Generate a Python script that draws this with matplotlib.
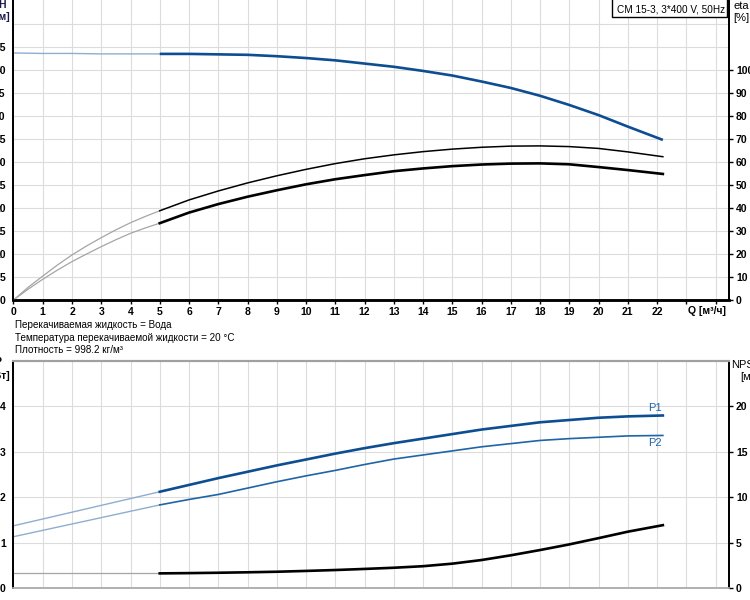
import matplotlib
matplotlib.use("Agg")
import matplotlib.pyplot as plt
from matplotlib.patches import Rectangle

plt.rcParams['font.family'] = ['Liberation Sans', 'DejaVu Sans']

# ---------------- data ----------------
q_main = [5, 6, 7, 8, 9, 10, 11, 12, 13, 14, 15, 16, 17, 18, 19, 20, 21, 22.2]
q_ext = [0, 1, 2, 3, 4, 5]
q_ext_eta = [0, 0.5, 1, 1.5, 2, 2.5, 3, 3.5, 4, 4.5, 5]

h_main = [53.5, 53.5, 53.4, 53.3, 53.0, 52.6, 52.1, 51.4, 50.7, 49.8, 48.8, 47.5,
          46.1, 44.4, 42.4, 40.2, 37.7, 34.8]
h_ext = [53.7, 53.6, 53.6, 53.5, 53.5, 53.5]

eta1_main = [38.8, 43.5, 47.4, 50.9, 54.0, 56.8, 59.3, 61.4, 63.1, 64.5, 65.6, 66.4,
             66.9, 67.0, 66.7, 65.9, 64.4, 62.3]
eta1_ext = [0, 5.5, 10.4, 15.2, 19.6, 23.5, 27.1, 30.5, 33.6, 36.3, 38.8]
eta2_main = [33.4, 38.0, 41.7, 44.9, 47.7, 50.3, 52.5, 54.3, 56.0, 57.2, 58.2, 58.9,
             59.3, 59.4, 59.0, 57.8, 56.5, 54.8]
eta2_ext = [0, 4.7, 9.0, 13.0, 16.7, 20.0, 23.2, 26.2, 29.0, 31.3, 33.4]

p1_main = [2.12, 2.27, 2.42, 2.56, 2.70, 2.83, 2.96, 3.08, 3.19, 3.29, 3.39, 3.49,
           3.57, 3.65, 3.70, 3.75, 3.78, 3.80]
p1_ext = [1.37, 1.52, 1.67, 1.82, 1.97, 2.12]
p2_main = [1.83, 1.95, 2.06, 2.20, 2.34, 2.47, 2.59, 2.72, 2.84, 2.93, 3.02, 3.11,
           3.18, 3.25, 3.29, 3.32, 3.35, 3.36]
p2_ext = [1.13, 1.27, 1.41, 1.55, 1.69, 1.83]

npsh_main = [1.61, 1.64, 1.68, 1.73, 1.79, 1.88, 1.98, 2.10, 2.23, 2.40, 2.68, 3.08,
             3.60, 4.18, 4.80, 5.49, 6.20, 6.92]
npsh_ext = [1.6, 1.6, 1.6, 1.6, 1.6, 1.6]

x_ticks = list(range(0, 25))
x_labels = [str(i) for i in range(0, 23)] + ['', '']
h_ticks = list(range(0, 65, 5))
h_labels = [str(v) for v in range(0, 60, 5)] + ['']
eta_ticks = list(range(0, 101, 10))
p_ticks = [0, 1, 2, 3, 4]
npsh_ticks = [0, 5, 10, 15, 20]

text_lines = ["Перекачиваемая жидкость = Вода",
              "Температура перекачиваемой жидкости = 20 °C",
              "Плотность = 998.2 кг/м³"]
title = "CM 15-3, 3*400 V, 50Hz"

# ---------------- figure ----------------
W, H = 750, 600
fig = plt.figure(figsize=(7.5, 6), dpi=100)

def fx(px):
    return px / W

def fy(py):
    return 1 - py / H

x0, x1 = 13.5, 729
xmax = (x1 - x0) / 29.25

blue_dark = '#0d4d92'
blue_mid = '#1f64a6'
ext_blue = '#8eaed0'
ext_gray = '#a5a5a5'
grid_c = '#dcdcdc'
fs = 7.5

# ---- top axes ----
ax = fig.add_axes([fx(x0), fy(300), fx(x1) - fx(x0), fy(0) - fy(300)])
ax2 = ax.twinx()
ax.set_xlim(0, xmax)
ax.set_ylim(0, 300 / 23 * 5)
ax2.set_ylim(0, 300 / 23 * 10)

ax.grid(True, color=grid_c, lw=0.8)
ax.set_axisbelow(True)

ax.plot(q_ext, h_ext, color=ext_blue, lw=1.0)
ax.plot(q_main, h_main, color=blue_dark, lw=1.9, solid_capstyle='butt')
ax2.plot(q_ext_eta, eta1_ext, color=ext_gray, lw=0.9)
ax2.plot(q_ext_eta, eta2_ext, color=ext_gray, lw=0.9)
ax2.plot(q_main, eta1_main, color='black', lw=1.1)
ax2.plot(q_main, eta2_main, color='black', lw=1.9)

ax.set_xticks(x_ticks)
ax.set_xticklabels(x_labels, fontsize=fs, fontweight='bold')
ax.set_yticks(h_ticks)
ax.set_yticklabels(h_labels, fontsize=fs, fontweight='bold')
ax.tick_params(axis='x', length=3, width=1, pad=2)
ax.tick_params(axis='y', length=0, pad=5.5)
ax2.set_yticks(eta_ticks)
ax2.set_yticklabels([str(v) for v in eta_ticks], fontsize=fs, fontweight='bold')
ax2.tick_params(axis='y', length=3, width=1, pad=2)

for a in (ax, ax2):
    a.spines['top'].set_visible(False)
    a.spines['left'].set_linewidth(1.3)
    a.spines['right'].set_linewidth(1.3)
    a.spines['bottom'].set_linewidth(1.8)

# ---- bottom axes ----
bx = fig.add_axes([fx(x0), fy(588), fx(x1) - fx(x0), fy(361) - fy(588)])
bx2 = bx.twinx()
bx.set_xlim(0, xmax)
bx.set_ylim(0, 5)
bx2.set_ylim(0, 25)
bx.grid(True, color=grid_c, lw=0.8)
bx.set_axisbelow(True)

bx.plot(q_ext, p1_ext, color=ext_blue, lw=1.0)
bx.plot(q_ext, p2_ext, color=ext_blue, lw=1.0)
bx.plot(q_main, p1_main, color=blue_dark, lw=1.9)
bx.plot(q_main, p2_main, color=blue_mid, lw=1.2)
bx2.plot(q_ext, npsh_ext, color=ext_gray, lw=0.9)
bx2.plot(q_main, npsh_main, color='black', lw=1.9)

bx.set_xticks(x_ticks)
bx.set_xticklabels([])
bx.tick_params(axis='x', length=0)
bx.set_yticks(p_ticks)
bx.set_yticklabels([str(v) for v in p_ticks], fontsize=fs, fontweight='bold')
bx.tick_params(axis='y', length=0, pad=5.5)
bx2.set_yticks(npsh_ticks)
bx2.set_yticklabels([str(v) for v in npsh_ticks], fontsize=fs, fontweight='bold')
bx2.tick_params(axis='y', length=3, width=1, pad=2)

for a in (bx, bx2):
    a.spines['top'].set_color('#a0a0a0')
    a.spines['top'].set_linewidth(1.5)
    a.spines['bottom'].set_color('#b0b0b0')
    a.spines['bottom'].set_linewidth(1.2)
    a.spines['left'].set_linewidth(1.3)
    a.spines['right'].set_linewidth(1.3)

bx.text(21.93, 3.96, "P1", color=blue_mid, fontsize=8, ha='center', va='center')
bx.text(21.93, 3.19, "P2", color=blue_mid, fontsize=8, ha='center', va='center')

# ---- texts ----
fig.text(fx(707), fy(311), "Q [м³/ч]", fontsize=fs, fontweight='bold', ha='center', va='center')
for i, line in enumerate(text_lines):
    fig.text(fx(15), fy(325 + i * 12.7), line, fontsize=7.1, ha='left', va='center')

fig.text(fx(2.5), fy(11), "H\n[м]", fontsize=fs, fontweight='bold', ha='center',
         va='center', multialignment='center', color='#1a1a4a', linespacing=1.2)
fig.text(fx(741.5), fy(12), "eta\n[%]", fontsize=8, ha='center',
         va='center', multialignment='center', linespacing=1.2)
fig.text(fx(-2), fy(369), "P\n[кВт]", fontsize=fs, fontweight='bold', ha='center',
         va='center', multialignment='center', linespacing=1.4)
fig.text(fx(747), fy(371), "NPSH\n[м]", fontsize=8, ha='center',
         va='center', multialignment='center', linespacing=1.2)

# title box (top edge runs off the image as in the reference)
fig.add_artist(Rectangle((fx(612), fy(17)), fx(727) - fx(612), fy(-3) - fy(17),
                         transform=fig.transFigure, fc='white', ec='black', lw=1.0,
                         zorder=5))
fig.text(fx(725), fy(9.5), title, fontsize=7.2, ha='right', va='center', zorder=6)

fig.savefig("out.png", dpi=100)
